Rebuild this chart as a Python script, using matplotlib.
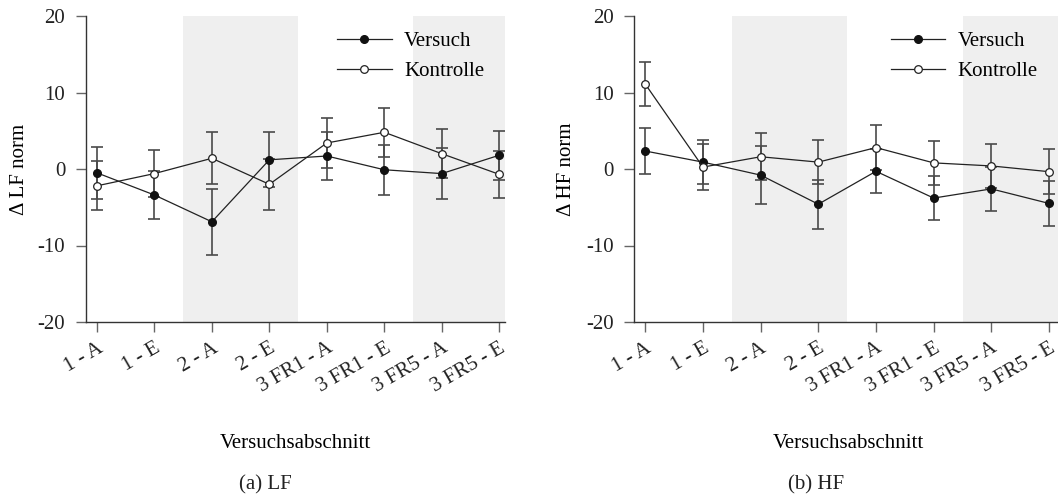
import numpy as np
import matplotlib.pyplot as plt

# --------------------------------------

# Data
labels = ['1 - A', '1 - E', '2 - A', '2 - E', '3 FR1 - A', '3 FR1 - E', '3 FR5 - A', '3 FR5 - E']

lf_versuch = [-0.5, -3.4, -6.9, 1.2, 1.7, -0.1, -0.6, 1.8]
lf_versuch_err = [3.4, 3.1, 4.3, 3.6, 3.2, 3.3, 3.3, 3.2]
lf_kontrolle = [-2.2, -0.6, 1.4, -2.0, 3.4, 4.8, 2.0, -0.7]
lf_kontrolle_err = [3.2, 3.1, 3.4, 3.3, 3.3, 3.2, 3.2, 3.1]

hf_versuch = [2.35, 0.9, -0.8, -4.6, -0.3, -3.8, -2.6, -4.5]
hf_versuch_err = [3.0, 2.9, 3.8, 3.2, 2.9, 2.9, 2.9, 2.95]
hf_kontrolle = [11.1, 0.25, 1.6, 0.9, 2.8, 0.8, 0.4, -0.35]
hf_kontrolle_err = [2.9, 3.0, 3.1, 2.9, 2.9, 2.9, 2.9, 2.95]

# shaded phases (index ranges)
shaded = [(1.5, 3.5), (5.5, 8.0)]

plt.rcParams['font.family'] = ['Liberation Serif', 'DejaVu Serif']
plt.rcParams['font.size'] = 15
plt.rcParams['axes.unicode_minus'] = False


def draw_panel(ax, versuch, versuch_err, kontrolle, kontrolle_err, ylabel, xmax):
    x = np.arange(len(labels))
    for lo, hi in shaded:
        ax.axvspan(lo, hi, color='#efefef', lw=0, zorder=0)
    # error bars first, then lines + markers on top
    ax.errorbar(x, versuch, yerr=versuch_err, fmt='none', ecolor='#4a4a4a',
                elinewidth=1.2, capsize=4, capthick=1.2, zorder=2)
    ax.errorbar(x, kontrolle, yerr=kontrolle_err, fmt='none', ecolor='#4a4a4a',
                elinewidth=1.2, capsize=4, capthick=1.2, zorder=2)
    ax.plot(x, versuch, color='#222222', lw=0.9, marker='o', ms=5.5,
            mfc='#111111', mec='#111111', label='Versuch', zorder=3)
    ax.plot(x, kontrolle, color='#222222', lw=0.9, marker='o', ms=5.5,
            mfc='white', mec='#222222', mew=0.9, label='Kontrolle', zorder=4)

    ax.set_xlim(-0.19, xmax)
    ax.set_ylim(-20, 20)
    ax.set_yticks([-20, -10, 0, 10, 20])
    ax.set_xticks(x)
    ax.set_xticklabels(labels, rotation=30, ha='right', rotation_mode='anchor')
    ax.tick_params(direction='out', length=7, width=1, color='#666666', pad=8,
                   labelcolor='#222222')
    ax.tick_params(axis='x', pad=5)
    for side in ['top', 'right']:
        ax.spines[side].set_visible(False)
    for side in ['left', 'bottom']:
        ax.spines[side].set_color('#333333')
        ax.spines[side].set_linewidth(1.0)

    ax.set_ylabel(ylabel)
    ax.yaxis.set_label_coords(-0.136, 0.5)
    ax.set_xlabel('Versuchsabschnitt')
    ax.xaxis.set_label_coords(0.5, -0.366)

    ax.legend(loc='upper left', bbox_to_anchor=(0.6, 0.95), frameon=False,
              borderpad=0, borderaxespad=0, handlelength=2.6, handletextpad=0.6,
              labelspacing=0.5)


fig = plt.figure(figsize=(10.58, 4.97), dpi=100)
ax1 = fig.add_axes([86 / 1058, 175 / 497, 419 / 1058, 306 / 497])
ax2 = fig.add_axes([634.3 / 1058, 175 / 497, 428 / 1058, 306 / 497])

draw_panel(ax1, lf_versuch, lf_versuch_err, lf_kontrolle, lf_kontrolle_err,
           '\u0394 LF norm', 7.1)
draw_panel(ax2, hf_versuch, hf_versuch_err, hf_kontrolle, hf_kontrolle_err,
           '\u0394 HF norm', 7.23)

fig.text(265 / 1058, 1 - 485 / 497, '(a) LF', ha='center', va='center', color='#222222')
fig.text(816 / 1058, 1 - 485 / 497, '(b) HF', ha='center', va='center', color='#222222')

fig.savefig('out.png', dpi=100)
